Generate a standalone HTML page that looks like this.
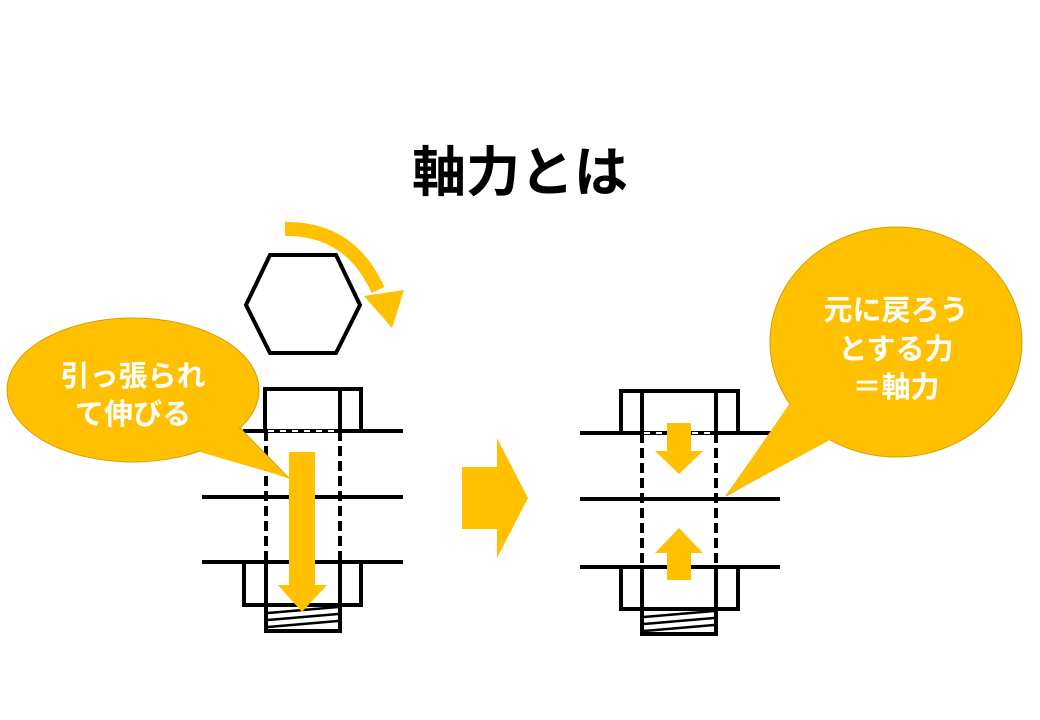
<!DOCTYPE html>
<html><head><meta charset="utf-8"><style>
html,body{margin:0;padding:0;background:#fff;width:1040px;height:720px;overflow:hidden}
svg{display:block}
text{font-family:"Liberation Sans","Noto Sans CJK JP",sans-serif;font-weight:bold}
</style></head><body>
<svg width="1040" height="720" viewBox="0 0 1040 720">
<text x="520" y="191" text-anchor="middle" font-size="54" fill="#000">軸力とは</text>

<!-- curved arrow -->
<path d="M285,229 Q350,228 378,290" fill="none" stroke="#FFC000" stroke-width="14"/>
<polygon points="364,296 404,290 392,328" fill="#FFC000"/>
<!-- hexagon -->
<polygon points="246,305 270,255 336,255 360,305 336,353 270,353" fill="#fff" stroke="#000" stroke-width="4"/>

<!-- left bolt -->
<g stroke="#000" stroke-width="4" fill="none">
<rect x="265" y="389" width="96" height="42"/>
<line x1="340" y1="389" x2="340" y2="431"/>
<line x1="243" y1="431" x2="403" y2="431"/>
<line x1="202" y1="497" x2="403" y2="497"/>
<line x1="202" y1="562" x2="403" y2="562"/>
<rect x="244" y="562" width="117" height="43"/>
<line x1="266" y1="562" x2="266" y2="605"/><line x1="340" y1="562" x2="340" y2="605"/>
<rect x="266" y="605" width="74" height="26"/>
<line x1="266" y1="431" x2="266" y2="562" stroke-dasharray="10,5"/>
<line x1="340" y1="431" x2="340" y2="562" stroke-dasharray="10,5"/>
</g>
<line x1="268" y1="431" x2="338" y2="431" stroke="#fff" stroke-width="2" stroke-dasharray="6,6"/>
<g stroke="#000" stroke-width="2.5"><line x1="268" y1="613" x2="338" y2="607"/><line x1="268" y1="620" x2="338" y2="614"/><line x1="268" y1="627" x2="338" y2="621"/></g>
<polygon points="289,452 315,452 315,585 327,585 302,612 278,585 289,585" fill="#FFC000"/>

<!-- left callout -->
<path d="M240,428 L289,478 L205,450 Z" fill="#FFC000" stroke="#d4a000" stroke-width="1"/>
<ellipse cx="133" cy="390" rx="126" ry="72" fill="#FFC000" stroke="#d4a000" stroke-width="1"/>
<path d="M235,425 L289,478 L200,452" fill="#FFC000"/>
<text x="133" y="386" text-anchor="middle" font-size="29" fill="#fff">引っ張られ</text>
<text x="133" y="424" text-anchor="middle" font-size="29" fill="#fff">て伸びる</text>

<!-- big arrow -->
<polygon points="462,467 497,467 497,438 528,498 497,558 497,529 462,529" fill="#FFC000"/>

<!-- right bolt -->
<g stroke="#000" stroke-width="4" fill="none">
<rect x="621" y="391" width="117" height="42"/>
<line x1="642" y1="391" x2="642" y2="433"/><line x1="716" y1="391" x2="716" y2="433"/>
<line x1="580" y1="433" x2="780" y2="433"/>
<line x1="580" y1="499" x2="780" y2="499"/>
<line x1="580" y1="567" x2="780" y2="567"/>
<rect x="621" y="567" width="117" height="42"/>
<line x1="642" y1="567" x2="642" y2="609"/><line x1="716" y1="567" x2="716" y2="609"/>
<rect x="642" y="609" width="74" height="25"/>
<line x1="642" y1="433" x2="642" y2="567" stroke-dasharray="10,5"/>
<line x1="716" y1="433" x2="716" y2="567" stroke-dasharray="10,5"/>
</g>
<line x1="644" y1="433" x2="714" y2="433" stroke="#fff" stroke-width="2" stroke-dasharray="6,6"/>
<g stroke="#000" stroke-width="2.5"><line x1="644" y1="617" x2="714" y2="611"/><line x1="644" y1="624" x2="714" y2="618"/><line x1="644" y1="631" x2="714" y2="625"/></g>
<polygon points="667,423 691,423 691,451 703,451 679,474 655,451 667,451" fill="#FFC000"/>
<polygon points="667,580 691,580 691,553 703,553 679,528 655,553 667,553" fill="#FFC000"/>

<!-- right callout -->
<path d="M788,408 L726,496 L823,442 Z" fill="#FFC000" stroke="#d4a000" stroke-width="1"/>
<ellipse cx="896" cy="342" rx="126" ry="115" fill="#FFC000" stroke="#d4a000" stroke-width="1"/>
<path d="M792,400 L726,496 L830,440" fill="#FFC000"/>
<text x="896" y="320" text-anchor="middle" font-size="29" fill="#fff">元に戻ろう</text>
<text x="896" y="359" text-anchor="middle" font-size="29" fill="#fff">とする力</text>
<text x="896" y="397" text-anchor="middle" font-size="29" fill="#fff">＝軸力</text>
</svg>
</body></html>
